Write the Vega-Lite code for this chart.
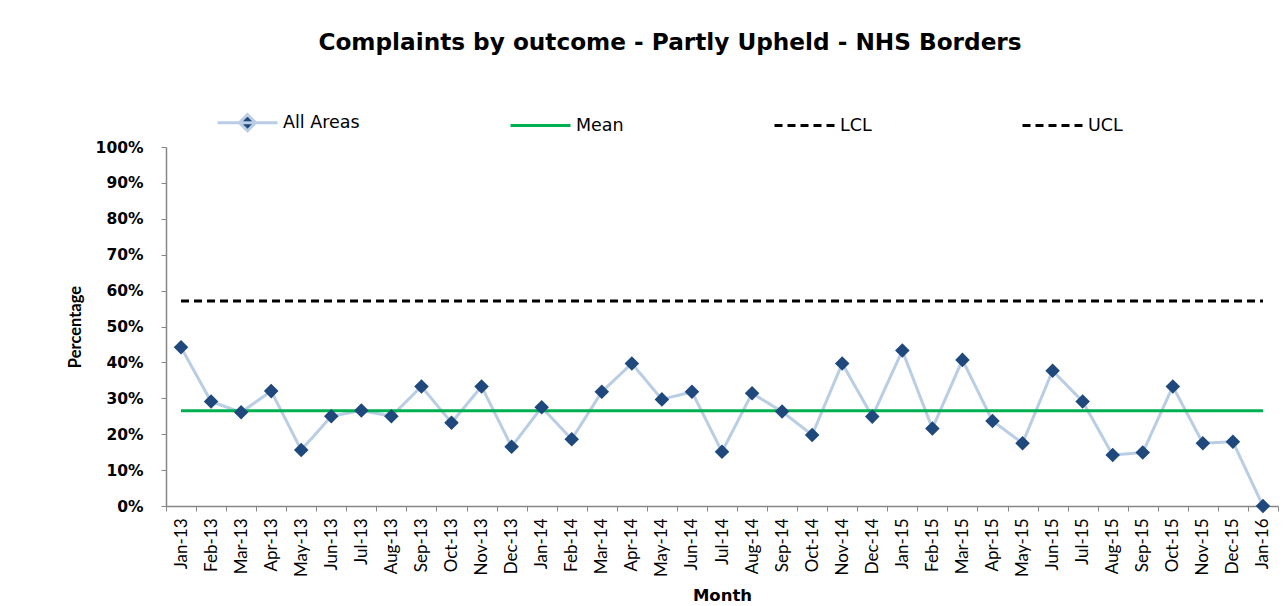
{
  "$schema": "https://vega.github.io/schema/vega-lite/v6.json",
  "width": 1112,
  "height": 359,
  "autosize": {"type": "none"},
  "padding": {"left": 166, "top": 147, "right": 10, "bottom": 100},
  "background": "white",
  "title": {
    "text": "Complaints by outcome - Partly Upheld - NHS Borders",
    "font": "DejaVu Sans", "fontSize": 23.2, "fontWeight": "bold", "color": "#000000",
    "anchor": "middle", "frame": "group", "offset": 36, "dx": -52
  },
  "config": {"view": {"stroke": null}},
  "data": {"values": [
    {"month": "Jan-13", "series": "All Areas", "value": 0.442},
    {"month": "Feb-13", "series": "All Areas", "value": 0.291},
    {"month": "Mar-13", "series": "All Areas", "value": 0.261},
    {"month": "Apr-13", "series": "All Areas", "value": 0.320},
    {"month": "May-13", "series": "All Areas", "value": 0.156},
    {"month": "Jun-13", "series": "All Areas", "value": 0.250},
    {"month": "Jul-13", "series": "All Areas", "value": 0.266},
    {"month": "Aug-13", "series": "All Areas", "value": 0.250},
    {"month": "Sep-13", "series": "All Areas", "value": 0.333},
    {"month": "Oct-13", "series": "All Areas", "value": 0.232},
    {"month": "Nov-13", "series": "All Areas", "value": 0.333},
    {"month": "Dec-13", "series": "All Areas", "value": 0.165},
    {"month": "Jan-14", "series": "All Areas", "value": 0.275},
    {"month": "Feb-14", "series": "All Areas", "value": 0.186},
    {"month": "Mar-14", "series": "All Areas", "value": 0.318},
    {"month": "Apr-14", "series": "All Areas", "value": 0.397},
    {"month": "May-14", "series": "All Areas", "value": 0.297},
    {"month": "Jun-14", "series": "All Areas", "value": 0.318},
    {"month": "Jul-14", "series": "All Areas", "value": 0.151},
    {"month": "Aug-14", "series": "All Areas", "value": 0.314},
    {"month": "Sep-14", "series": "All Areas", "value": 0.263},
    {"month": "Oct-14", "series": "All Areas", "value": 0.198},
    {"month": "Nov-14", "series": "All Areas", "value": 0.397},
    {"month": "Dec-14", "series": "All Areas", "value": 0.249},
    {"month": "Jan-15", "series": "All Areas", "value": 0.433},
    {"month": "Feb-15", "series": "All Areas", "value": 0.216},
    {"month": "Mar-15", "series": "All Areas", "value": 0.407},
    {"month": "Apr-15", "series": "All Areas", "value": 0.237},
    {"month": "May-15", "series": "All Areas", "value": 0.175},
    {"month": "Jun-15", "series": "All Areas", "value": 0.377},
    {"month": "Jul-15", "series": "All Areas", "value": 0.291},
    {"month": "Aug-15", "series": "All Areas", "value": 0.142},
    {"month": "Sep-15", "series": "All Areas", "value": 0.149},
    {"month": "Oct-15", "series": "All Areas", "value": 0.333},
    {"month": "Nov-15", "series": "All Areas", "value": 0.175},
    {"month": "Dec-15", "series": "All Areas", "value": 0.179},
    {"month": "Jan-16", "series": "All Areas", "value": 0.0},
    {"month": "Jan-13", "series": "Mean", "value": 0.265},
    {"month": "Jan-16", "series": "Mean", "value": 0.265},
    {"month": "Jan-13", "series": "UCL", "value": 0.571},
    {"month": "Jan-16", "series": "UCL", "value": 0.571}
  ]},
  "encoding": {
    "x": {
      "field": "month", "type": "ordinal", "sort": null,
      "scale": {"type": "band", "paddingInner": 0, "paddingOuter": 0},
      "axis": {
        "title": "Month", "titleFont": "DejaVu Sans", "titleFontSize": 16.5, "titleFontWeight": "bold", "titleColor": "#000000", "titlePadding": 11,
        "labelAngle": -90, "labelFont": "Lato", "labelFontSize": 17, "labelColor": "#000000", "labelPadding": 7,
        "tickBand": "extent", "tickSize": 5, "tickColor": "#868686", "domainColor": "#868686", "domainWidth": 1.5, "grid": false
      }
    },
    "y": {
      "field": "value", "type": "quantitative",
      "scale": {"domain": [0, 1], "nice": false},
      "axis": {
        "title": "Percentage", "titleFont": "Lato", "titleFontSize": 16.5, "titleFontWeight": "bold", "titleColor": "#000000", "titlePadding": 12,
        "values": [0, 0.1, 0.2, 0.3, 0.4, 0.5, 0.6, 0.7, 0.8, 0.9, 1],
        "format": ".0%", "labelFont": "DejaVu Sans", "labelFontSize": 15.5, "labelFontWeight": "bold", "labelColor": "#000000", "labelPadding": 18,
        "tickSize": 5, "tickColor": "#868686", "domainColor": "#868686", "domainWidth": 1.5, "grid": false
      }
    }
  },
  "layer": [
    {
      "mark": {"type": "line", "strokeWidth": 3},
      "encoding": {
        "stroke": {
          "field": "series", "type": "nominal",
          "scale": {"domain": ["All Areas", "Mean", "LCL", "UCL"], "range": ["#B9CDE5", "#00B050", "#000000", "#000000"]},
          "legend": {"title": null, "orient": "none", "legendX": 50, "legendY": -56, "direction": "horizontal", "symbolSize": 3600, "symbolStrokeWidth": 3, "labelFont": "DejaVu Sans", "labelFontSize": 17.5, "labelColor": "#000000", "labelOffset": 4, "columnPadding": 144,
            "encode": {"symbols": {"update": {"fill": {"value": "#1F497D"}, "fillOpacity": {"value": 1}, "opacity": {"value": 1}}}}}
        },
        "strokeDash": {
          "field": "series", "type": "nominal",
          "scale": {"domain": ["All Areas", "Mean", "LCL", "UCL"], "range": [[1, 0], [1, 0], [8, 5], [8, 5]]},
          "legend": {"title": null, "orient": "none", "legendX": 50, "legendY": -56, "direction": "horizontal", "symbolSize": 3600, "symbolStrokeWidth": 3, "labelFont": "DejaVu Sans", "labelFontSize": 17.5, "labelColor": "#000000", "labelOffset": 4, "columnPadding": 144,
            "encode": {"symbols": {"update": {"fill": {"value": "#1F497D"}, "fillOpacity": {"value": 1}, "opacity": {"value": 1}}}}}
        }
      }
    },
    {
      "transform": [{"filter": "datum.series === 'All Areas'"}],
      "mark": {"type": "point", "filled": true, "opacity": 1, "size": 2900},
      "encoding": {
        "fill": {
          "field": "series", "type": "nominal",
          "scale": {"domain": ["All Areas", "Mean", "LCL", "UCL"], "range": ["#1F497D", "transparent", "transparent", "transparent"]},
          "legend": {"title": null, "orient": "none", "legendX": 50, "legendY": -56, "direction": "horizontal", "symbolSize": 3600, "symbolStrokeWidth": 3, "labelFont": "DejaVu Sans", "labelFontSize": 17.5, "labelColor": "#000000", "labelOffset": 4, "columnPadding": 144,
            "encode": {"symbols": {"update": {"fill": {"value": "#1F497D"}, "fillOpacity": {"value": 1}, "opacity": {"value": 1}}}}}
        },
        "shape": {
          "field": "series", "type": "nominal",
          "scale": {"domain": ["All Areas", "Mean", "LCL", "UCL"], "range": ["M-1,0H1M0,-0.27L0.27,0L0,0.27L-0.27,0Z", "stroke", "stroke", "stroke"]},
          "legend": {"title": null, "orient": "none", "legendX": 50, "legendY": -56, "direction": "horizontal", "symbolSize": 3600, "symbolStrokeWidth": 3, "labelFont": "DejaVu Sans", "labelFontSize": 17.5, "labelColor": "#000000", "labelOffset": 4, "columnPadding": 144,
            "encode": {"symbols": {"update": {"fill": {"value": "#1F497D"}, "fillOpacity": {"value": 1}, "opacity": {"value": 1}}}}}
        }
      }
    }
  ]
}
